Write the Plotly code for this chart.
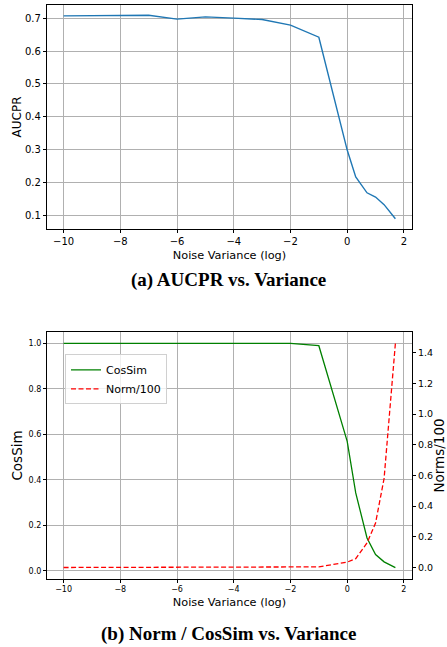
import plotly.graph_objects as go

# log10 of noise variance
noise_log = [-10, -9, -8, -7, -6, -5, -4, -3, -2, -1, 0, 0.301, 0.699, 1, 1.301, 1.699]

aucpr = [0.707, 0.707, 0.709, 0.709, 0.697, 0.704, 0.700, 0.696, 0.679, 0.642,
         0.299, 0.217, 0.169, 0.156, 0.133, 0.090]

cossim = [1.0, 1.0, 1.0, 1.0, 1.0, 1.0, 1.0, 1.0, 1.0, 0.990,
          0.570, 0.343, 0.145, 0.072, 0.040, 0.015]

norm_100 = [0.0, 0.0, 0.0, 0.0, 0.0, 0.0, 0.0, 0.0, 0.0, 0.004,
            0.035, 0.058, 0.16, 0.29, 0.58, 1.46]

x_ticks = [-10, -8, -6, -4, -2, 0, 2]

W, H = 447, 647
def px_x(a, b):
    return [a / W, b / W]
def px_y(top, bottom):
    return [(H - bottom) / H, (H - top) / H]

FONT = "DejaVu Sans"
GRID = "#b0b0b0"

fig = go.Figure()

fig.add_trace(go.Scatter(x=noise_log, y=aucpr, mode="lines", line=dict(color="#1f77b4", width=1.4),
                         showlegend=False, xaxis="x", yaxis="y"))
fig.add_trace(go.Scatter(x=noise_log, y=cossim, mode="lines", name="CosSim",
                         line=dict(color="green", width=1.3), xaxis="x2", yaxis="y2"))
fig.add_trace(go.Scatter(x=noise_log, y=norm_100, mode="lines", name="Norm/100",
                         line=dict(color="red", width=1.3, dash="5px,2.5px"), xaxis="x2", yaxis="y3"))

axis_common = dict(showline=True, mirror=True, linecolor="black", linewidth=1.2,
                   ticks="outside", ticklen=3, tickcolor="black", tickwidth=1,
                   showgrid=True, gridcolor=GRID, gridwidth=1, zeroline=False, automargin=False)

xd = px_x(47, 412)

fig.update_layout(
    width=W, height=H,
    margin=dict(l=0, r=0, t=0, b=0, pad=0, autoexpand=False),
    paper_bgcolor="white", plot_bgcolor="white",
    font=dict(family=FONT, color="black"),
    xaxis=dict(domain=xd, anchor="y", range=[-10.585, 2.285], tickvals=x_ticks,
               tickfont=dict(size=10), title=dict(text="Noise Variance (log)", font=dict(size=11.3), standoff=4),
               **axis_common),
    yaxis=dict(domain=px_y(5, 229), anchor="x", range=[0.059, 0.740], dtick=0.1, tick0=0.1,
               tickformat=".1f", tickfont=dict(size=10),
               title=dict(text="AUCPR", font=dict(size=12), standoff=0), **axis_common),
    xaxis2=dict(domain=xd, anchor="y2", range=[-10.585, 2.285], tickvals=x_ticks,
                tickfont=dict(size=8), title=dict(text="Noise Variance (log)", font=dict(size=11.3), standoff=4),
                **axis_common),
    yaxis2=dict(domain=px_y(332.3, 578.7), anchor="x2", range=[-0.034, 1.049], dtick=0.2, tick0=0,
                tickformat=".1f", tickfont=dict(size=8),
                title=dict(text="CosSim", font=dict(size=13.5), standoff=2), **axis_common),
    yaxis3=dict(overlaying="y2", side="right", anchor="x2", range=[-0.073, 1.533], dtick=0.2, tick0=0,
                tickformat=".1f", tickfont=dict(size=9.5), showgrid=False, zeroline=False,
                showline=True, linecolor="black", linewidth=1.2, automargin=False,
                ticks="outside", ticklen=3, tickcolor="black",
                title=dict(text="Norms/100", font=dict(size=13.5), standoff=7)),
    legend=dict(x=65 / W, y=(H - 354.3) / H, xanchor="left", yanchor="top",
                bgcolor="rgba(255,255,255,0.8)", bordercolor="#d0d0d0", borderwidth=1,
                font=dict(size=11, family=FONT), itemwidth=30, tracegroupgap=0),
    annotations=[
        dict(text="<b>(a) AUCPR vs. Variance</b>", x=229 / W, y=(H - 280) / H, xref="paper", yref="paper",
             showarrow=False, xanchor="center", yanchor="middle",
             font=dict(family="Liberation Serif", size=19, color="black")),
        dict(text="<b>(b) Norm / CosSim vs. Variance</b>", x=229 / W, y=(H - 634.3) / H, xref="paper", yref="paper",
             showarrow=False, xanchor="center", yanchor="middle",
             font=dict(family="Liberation Serif", size=19, color="black")),
    ],
)

fig.write_html("out.html", config={"displayModeBar": False},
               post_script="document.body.style.margin='0';document.body.style.padding='0';document.body.style.overflow='hidden';")
